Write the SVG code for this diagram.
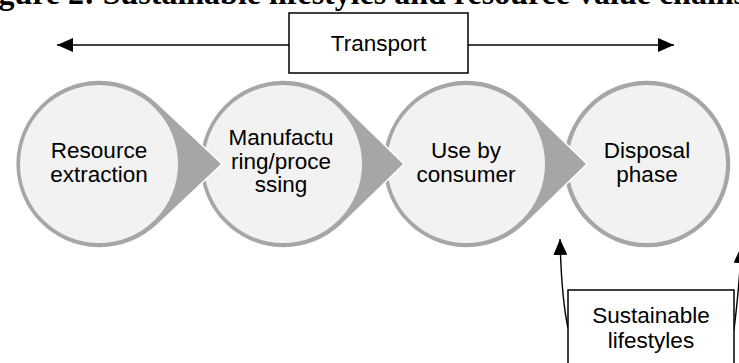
<svg xmlns="http://www.w3.org/2000/svg" width="739" height="363" viewBox="0 0 739 363">
<style>
.bg{fill:#ffffff}
.shape{fill:#a6a6a6;stroke:#ffffff;stroke-width:1.5}
.inner{fill:#f2f2f2}
.lbl{font-family:"Liberation Sans",Arial,sans-serif;font-size:22.5px;fill:#000;text-anchor:middle}
.title{font-family:"Liberation Serif","Times New Roman",serif;font-size:32px;font-weight:bold;fill:#000}
.box{fill:#ffffff;stroke:#000;stroke-width:1.5}
.conn{fill:none;stroke:#000;stroke-width:1.4}
</style>
<defs>
<marker id="ah" markerUnits="userSpaceOnUse" markerWidth="16" markerHeight="14" viewBox="0 0 16 14" refX="16" refY="7" orient="auto">
<path d="M0,0 L16,7 L0,14 z" fill="#000"/>
</marker>
</defs>
<rect class="bg" x="0" y="0" width="739" height="363"/>
<text class="title" x="-30" y="4">Figure 2: Sustainable lifestyles and resource value chains</text>

<g id="connectors">
<path class="conn" d="M289,45 L57,45" marker-end="url(#ah)"/>
<path class="conn" d="M468,45 L674,45" marker-end="url(#ah)"/>
<path class="conn" d="M568,328 C563,305 561,280 560,239" marker-end="url(#ah)"/>
<path class="conn" d="M734,330 C737,305 740,280 741,247" marker-end="url(#ah)"/>
</g>

<g id="transport">
<rect class="box" x="289" y="13" width="179" height="60"/>
<text class="lbl" x="378.5" y="51">Transport</text>
</g>

<g id="node4">
<circle cx="647" cy="164" r="84" fill="#a6a6a6" stroke="#fff" stroke-width="1.5"/>
<circle class="inner" cx="647" cy="164" r="79"/>
<text class="lbl" x="647" y="158">Disposal</text>
<text class="lbl" x="647" y="182">phase</text>
</g>

<g id="node3">
<path class="shape" d="M524.5,103.1 L587,164 L524.5,224.9 A84,84 0 1 1 524.5,103.1 Z"/>
<circle class="inner" cx="466" cy="164" r="79"/>
<text class="lbl" x="466" y="158">Use by</text>
<text class="lbl" x="466" y="182">consumer</text>
</g>

<g id="node2">
<path class="shape" d="M341.5,103.1 L404,164 L341.5,224.9 A84,84 0 1 1 341.5,103.1 Z"/>
<circle class="inner" cx="283" cy="164" r="79"/>
<text class="lbl" x="281" y="145">Manufactu</text>
<text class="lbl" x="281" y="169">ring/proce</text>
<text class="lbl" x="281" y="192">ssing</text>
</g>

<g id="node1">
<path class="shape" d="M157.5,103.1 L222,164 L157.5,224.9 A84,84 0 1 1 157.5,103.1 Z"/>
<circle class="inner" cx="99" cy="164" r="79"/>
<text class="lbl" x="99" y="158">Resource</text>
<text class="lbl" x="99" y="182">extraction</text>
</g>

<g id="lifestyles">
<rect class="box" x="568" y="290" width="166" height="80"/>
<text class="lbl" x="651" y="323">Sustainable</text>
<text class="lbl" x="651" y="348">lifestyles</text>
</g>
</svg>
